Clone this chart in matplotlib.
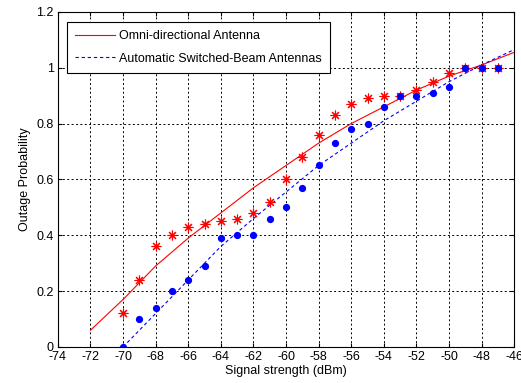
import matplotlib
matplotlib.use("Agg")
import matplotlib.pyplot as plt

plt.rcParams['font.family'] = ['Liberation Sans', 'DejaVu Sans']

x_pts = [-70, -69, -68, -67, -66, -65, -64, -63, -62, -61, -60, -59,
         -58, -57, -56, -55, -54, -53, -52, -51, -50, -49, -48, -47]
omni_pts = [0.12, 0.24, 0.36, 0.40, 0.43, 0.44, 0.45, 0.46, 0.48, 0.52, 0.60, 0.68,
            0.76, 0.83, 0.87, 0.89, 0.90, 0.90, 0.92, 0.95, 0.98, 1.00, 1.00, 1.00]
sb_pts = [0.00, 0.10, 0.14, 0.20, 0.24, 0.29, 0.39, 0.40, 0.40, 0.46, 0.50, 0.57,
          0.65, 0.73, 0.78, 0.80, 0.86, 0.90, 0.90, 0.91, 0.93, 1.00, 1.00, 1.00]

omni_fit_x = [-72, -70, -68, -66, -64, -62, -60, -58, -56, -54, -52, -50, -48, -46]
omni_fit_y = [0.06, 0.17, 0.29, 0.39, 0.48, 0.57, 0.65, 0.73, 0.80, 0.86, 0.92, 0.97, 1.01, 1.055]
sb_fit_x = [-70, -68, -66, -64, -62, -60, -58, -56, -54, -52, -50, -48, -46]
sb_fit_y = [0.00, 0.12, 0.24, 0.36, 0.46, 0.555, 0.65, 0.73, 0.81, 0.88, 0.95, 1.01, 1.065]

xticks = list(range(-74, -45, 2))
yticks = [0, 0.2, 0.4, 0.6, 0.8, 1.0, 1.2]
yticklabels = ['0', '0.2', '0.4', '0.6', '0.8', '1', '1.2']

fig = plt.figure(figsize=(5.21, 3.83), dpi=100)
ax = fig.add_axes([0.111, 0.094, 0.876, 0.875])

l1, = ax.plot(omni_fit_x, omni_fit_y, color='red', lw=0.8, label='Omni-directional Antenna')
l2, = ax.plot(sb_fit_x, sb_fit_y, color='blue', lw=0.8, linestyle=(0, (3, 2.5)),
              label='Automatic Switched-Beam Antennas')
ax.plot(x_pts, omni_pts, linestyle='none', marker=(8, 2, 0), markersize=7,
        markeredgecolor='red', markeredgewidth=0.8)
ax.plot(x_pts, sb_pts, linestyle='none', marker='o', markersize=4.2,
        markerfacecolor='blue', markeredgecolor='blue')

ax.set_xlim(-74, -46)
ax.set_ylim(0, 1.2)
ax.set_xticks(xticks)
ax.set_xticklabels([str(v) for v in xticks])
ax.set_yticks(yticks)
ax.set_yticklabels(yticklabels)
ax.tick_params(direction='in', top=True, right=True, labelsize=9, length=3, pad=3)
ax.grid(True, color='black', linestyle=(0, (2, 2.5)), linewidth=0.7)
for s in ax.spines.values():
    s.set_linewidth(0.8)

ax.set_xlabel('Signal strength (dBm)', fontsize=9, labelpad=1)
ax.set_ylabel('Outage Probability', fontsize=9, labelpad=4)

leg = ax.legend(handles=[l1, l2], loc='upper left', bbox_to_anchor=(0.02, 0.97),
                borderaxespad=0, fontsize=9, frameon=True, fancybox=False, framealpha=1,
                edgecolor='black', handlelength=3.2, handletextpad=0.35,
                borderpad=0.65, labelspacing=0.85)
leg.get_frame().set_linewidth(0.8)

fig.savefig('out.png', dpi=100)
